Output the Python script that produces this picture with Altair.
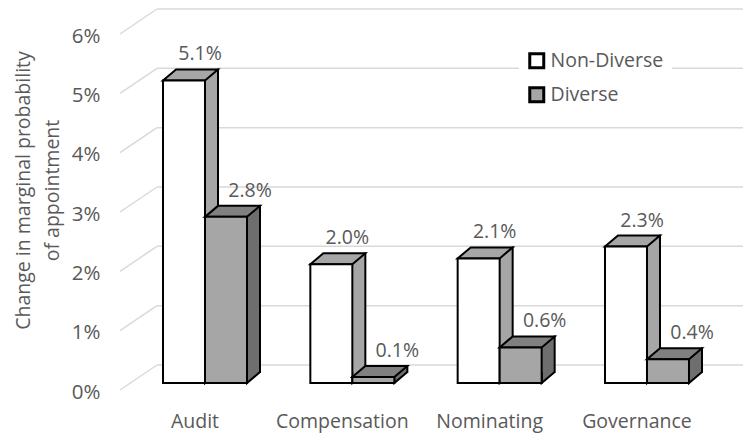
import altair as alt
import pandas as pd

categories = ["Audit", "Compensation", "Nominating", "Governance"]
series = ["Non-Diverse", "Diverse"]
non_diverse = [0.051, 0.020, 0.021, 0.023]
diverse = [0.028, 0.001, 0.006, 0.004]
ticks = [0, 0.01, 0.02, 0.03, 0.04, 0.05, 0.06]

rows = []
for c, a, b in zip(categories, non_diverse, diverse):
    rows.append({"category": c, "series": series[0], "value": a})
    rows.append({"category": c, "series": series[1], "value": b})
df = pd.DataFrame(rows)
grid_df = pd.DataFrame({"v": ticks})

W, H = 612, 356
BW, DX, DY = 42, 13, 11
S = BW / 2
SIZE = (2 * S) ** 2
FONT = "Open Sans"
TXT = "#595959"
GRID = "#d9d9d9"
FS = 19.5

ux, uy = DX / S, DY / S
TOP_SHAPE = f"M-1,0L1,0L{1+ux:.3f},{-uy:.3f}L{-1+ux:.3f},{-uy:.3f}Z"
BOT_SHAPE = f"M{ux:.3f},{-uy:.3f}L0,0L0,{-uy:.3f}"

yscale = alt.Scale(domain=[0, 0.06], nice=False, zero=True)
yaxis = alt.Axis(
    values=ticks, format=".0%", grid=False, domain=False, ticks=False,
    labelPadding=20, labelOffset=9, labelFont=FONT, labelFontSize=20.5, labelColor=TXT,
    title=["Change in marginal probability", "of appointment"],
    titleFont=FONT, titleFontSize=19.5, titleColor=TXT, titleFontWeight="normal",
    titleAngle=270, titleAlign="center", titleBaseline="middle",
    titleX=-97, titleY=163, titleLineHeight=29,
)


def yq(field):
    return alt.Y(f"{field}:Q", scale=yscale, axis=yaxis)


xenc = alt.X(
    "category:N", sort=categories,
    scale=alt.Scale(domain=categories, paddingInner=0.43, paddingOuter=0.292),
    axis=alt.Axis(title=None, domain=False, ticks=False, labelAngle=0,
                  labelPadding=29, labelOffset=-10, labelFont=FONT,
                  labelFontSize=FS, labelColor=TXT),
)
fill_enc = alt.Fill(
    "series:N", scale=alt.Scale(domain=series, range=["#ffffff", "#a6a6a6"]),
    legend=alt.Legend(
        title=None, orient="none", legendX=399, legendY=16, fillColor="white",
        padding=8, symbolType="square", symbolSize=196, symbolStrokeColor="black",
        symbolStrokeWidth=3, labelFont=FONT, labelFontSize=FS, labelColor=TXT,
        labelOffset=4, rowPadding=7,
    ),
)

grid = alt.Chart(grid_df).mark_rule(color=GRID, strokeWidth=1.5, yOffset=-18).encode(
    x=alt.value(37), x2=alt.value(623), y=yq("v")
)
diag = alt.Chart(grid_df).mark_rule(color=GRID, strokeWidth=1.5, yOffset=7, y2Offset=-18).encode(
    x=alt.value(0), x2=alt.value(37), y=yq("v"), y2=alt.Y2("v:Q")
)


def box(name, sx, top_c, side_c, label_dx):
    base = alt.Chart(df).transform_filter(alt.datum.series == name).transform_calculate(zero="0")
    side_fill = base.mark_rule(
        strokeWidth=DX, color=side_c, strokeCap="butt", opacity=1,
        xOffset=sx + BW / 2 + DX / 2, yOffset=-DY, y2Offset=-DY,
    ).encode(x=xenc, y=yq("value"), y2=alt.Y2("zero:Q"))
    side_edge = base.mark_rule(
        strokeWidth=2, color="black", opacity=1,
        xOffset=sx + BW / 2 + DX, yOffset=-DY - 1, y2Offset=-DY + 1,
    ).encode(x=xenc, y=yq("value"), y2=alt.Y2("zero:Q"))
    bottom = base.mark_point(
        shape=BOT_SHAPE, size=SIZE, filled=True, fill=side_c, stroke="black",
        strokeWidth=2, opacity=1, fillOpacity=1, strokeOpacity=1, xOffset=sx + BW / 2,
        strokeJoin="miter",
    ).encode(x=xenc, y=yq("zero"))
    top = base.mark_point(
        shape=TOP_SHAPE, size=SIZE, filled=True, fill=top_c, stroke="black",
        strokeWidth=2, opacity=1, fillOpacity=1, strokeOpacity=1, strokeJoin="miter",
        xOffset=sx,
    ).encode(x=xenc, y=yq("value"))
    front = base.mark_bar(stroke="black", strokeWidth=2, opacity=1, width=BW, xOffset=sx).encode(
        x=xenc, y=yq("value"), fill=fill_enc
    )
    label = base.mark_text(
        dx=sx + label_dx, dy=-26, font=FONT, fontSize=FS, color=TXT, baseline="middle"
    ).encode(x=xenc, y=yq("value"), text=alt.Text("value:Q", format=".1%"))
    return [side_fill, side_edge, bottom, top, front], label


nd_layers, nd_label = box("Non-Diverse", -BW / 2, "#a6a6a6", "#a6a6a6", 16)
d_layers, d_label = box("Diverse", BW / 2, "#808080", "#6e6e6e", 24)

chart = alt.layer(grid, diag, *nd_layers, *d_layers, nd_label, d_label).properties(
    width=W, height=H,
    autosize=alt.AutoSizeParams(type="none"),
    padding={"left": 120, "top": 27, "right": 11, "bottom": 50},
    background="white",
).configure_view(stroke=None)

chart.save("out.html", embed_options={"renderer": "svg", "actions": False})
